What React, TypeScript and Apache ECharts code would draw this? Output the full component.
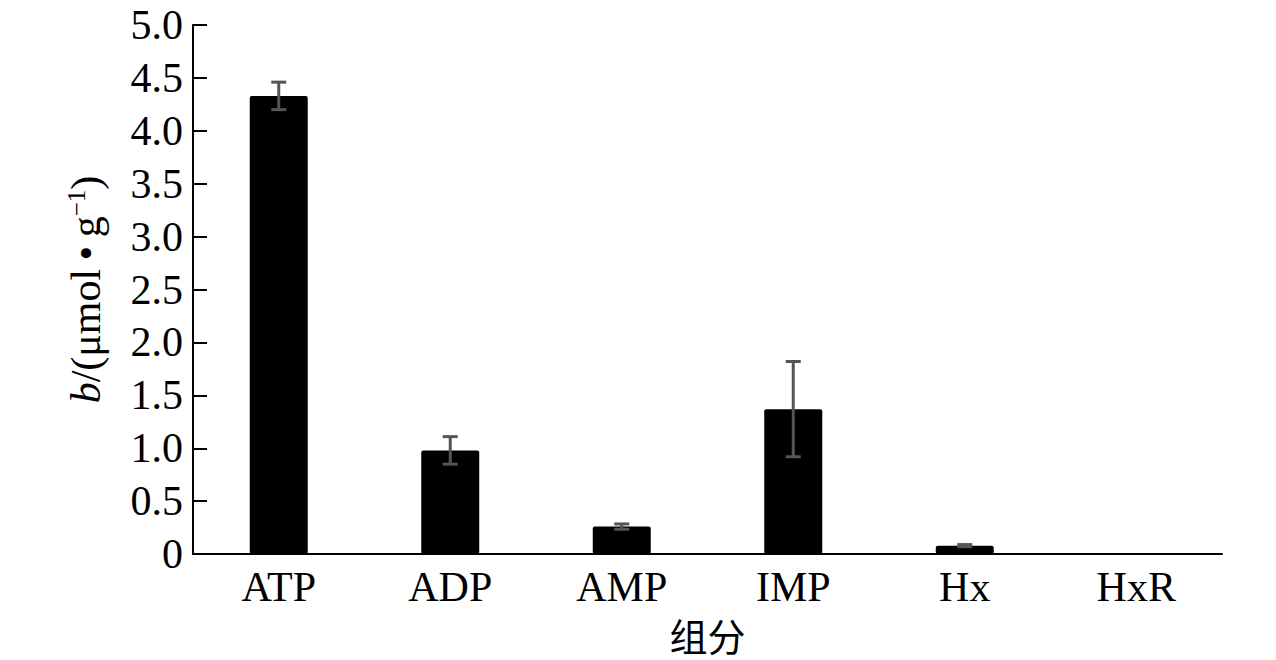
import React, { useEffect, useRef } from "react";
import * as echarts from "echarts";

const categories = ["ATP", "ADP", "AMP", "IMP", "Hx", "HxR"];
const values = [4.33, 0.98, 0.26, 1.37, 0.08, 0];
const errors = [0.13, 0.13, 0.025, 0.45, 0.01, 0];
const yTicks = { min: 0, max: 5, interval: 0.5 };

const SERIF = "'Liberation Serif', 'Times New Roman', serif";

export default function App() {
  const ref = useRef<HTMLDivElement>(null);
  useEffect(() => {
    document.body.style.margin = "0";
    if (!ref.current) return;
    const chart = echarts.init(ref.current, null, { renderer: "svg" });
    const errData = categories
      .map((_, i) => [i, values[i] - errors[i], values[i] + errors[i], errors[i]])
      .filter((d) => d[3] > 0);
    chart.setOption({
      animation: false,
      backgroundColor: "#ffffff",
      grid: { left: 193, right: 54, top: 25, bottom: 104, containLabel: false },
      xAxis: {
        type: "category",
        data: categories,
        name: "组分",
        nameLocation: "middle",
        nameGap: 52,
        nameTextStyle: { fontFamily: "'Noto Sans CJK SC', sans-serif", fontSize: 38, color: "#000", lineHeight: 42 },
        axisLine: { lineStyle: { color: "#000", width: 2 } },
        axisTick: { show: false },
        axisLabel: { fontFamily: SERIF, fontSize: 42, color: "#000", margin: 12 },
      },
      yAxis: {
        type: "value",
        min: yTicks.min,
        max: yTicks.max,
        interval: yTicks.interval,
        name: "{i|b}{n|/(μmol\u2009•\u2009g}{s|−1}{n|)}",
        nameLocation: "middle",
        nameRotate: 90,
        nameGap: 86,
        nameTextStyle: {
          rich: {
            i: { fontFamily: SERIF, fontSize: 42, fontStyle: "italic", color: "#000" },
            n: { fontFamily: SERIF, fontSize: 42, color: "#000" },
            s: { fontFamily: SERIF, fontSize: 25, color: "#000", verticalAlign: "top", padding: [0, 0, 18, 0] },
          },
        },
        axisLine: { show: true, lineStyle: { color: "#000", width: 2 } },
        axisTick: { show: true, inside: true, length: 14, lineStyle: { color: "#000", width: 2 } },
        splitLine: { show: false },
        axisLabel: {
          fontFamily: SERIF,
          fontSize: 42,
          color: "#000",
          margin: 10,
          formatter: (v: number) => (v === 0 ? "0" : v.toFixed(1)),
        },
      },
      series: [
        {
          type: "bar",
          data: values,
          barWidth: 58,
          itemStyle: { color: "#000", borderRadius: 2 },
        },
        {
          type: "custom",
          data: errData,
          z: 10,
          renderItem: (params: any, api: any) => {
            const x = api.value(0);
            const lo = api.coord([x, api.value(1)]);
            const hi = api.coord([x, api.value(2)]);
            const hw = 7.5;
            const style = { stroke: "#555555", lineWidth: 3 };
            return {
              type: "group",
              children: [
                { type: "line", shape: { x1: lo[0], y1: lo[1], x2: hi[0], y2: hi[1] }, style },
                { type: "line", shape: { x1: lo[0] - hw, y1: lo[1], x2: lo[0] + hw, y2: lo[1] }, style },
                { type: "line", shape: { x1: hi[0] - hw, y1: hi[1], x2: hi[0] + hw, y2: hi[1] }, style },
              ],
            };
          },
        },
      ],
    });
    return () => chart.dispose();
  }, []);
  return <div ref={ref} style={{ width: 1276, height: 660 }} />;
}
